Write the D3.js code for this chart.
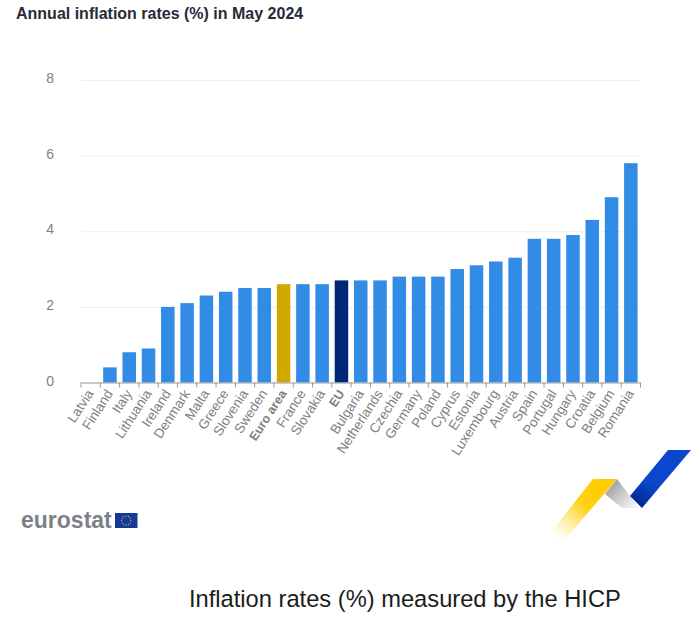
<!DOCTYPE html>
<html><head><meta charset="utf-8">
<script src="https://cdn.jsdelivr.net/npm/d3@7"></script>
<style>html,body{margin:0;padding:0;background:#fff}svg{display:block;font-family:"Liberation Sans",Arial,sans-serif}</style>
</head><body><div id="c"></div>
<script>
const countries=["Latvia","Finland","Italy","Lithuania","Ireland","Denmark","Malta","Greece","Slovenia","Sweden","Euro area","France","Slovakia","EU","Bulgaria","Netherlands","Czechia","Germany","Poland","Cyprus","Estonia","Luxembourg","Austria","Spain","Portugal","Hungary","Croatia","Belgium","Romania"];
const rates=[0.0,0.4,0.8,0.9,2.0,2.1,2.3,2.4,2.5,2.5,2.6,2.6,2.6,2.7,2.7,2.7,2.8,2.8,2.8,3.0,3.1,3.2,3.3,3.8,3.8,3.9,4.3,4.9,5.8];
const yTicks=[0,2,4,6,8];
const titleText="Annual inflation rates (%) in May 2024";
const captionText="Inflation rates (%) measured by the HICP";
const highlight={"Euro area":"#d1a800","EU":"#002677"};

const svg=d3.select("#c").append("svg").attr("width",700).attr("height",624);
const x=d3.scaleBand().domain(countries).range([81,640.5]).paddingInner(0.3).paddingOuter(0.15);
const y=d3.scaleLinear().domain([0,8]).range([382.5,80]);

svg.append("text").attr("x",16).attr("y",19).attr("font-size",16).attr("font-weight",700).attr("fill","#262b38").text(titleText);

// grid
svg.append("g").selectAll("line").data(yTicks.filter(d=>d>0)).join("line")
 .attr("x1",81).attr("x2",640.5).attr("y1",d=>y(d)+.5).attr("y2",d=>y(d)+.5).attr("stroke","#eceff1");
svg.append("g").selectAll("text").data(yTicks).join("text")
 .attr("x",54).attr("y",d=>y(d)+3).attr("text-anchor","end").attr("font-size",14).attr("fill","#7f7f7f").text(d=>d);

// bars
svg.append("g").selectAll("rect").data(countries).join("rect")
 .attr("x",d=>x(d)).attr("width",x.bandwidth())
 .attr("y",(d,i)=>y(rates[i])).attr("height",(d,i)=>y(0)-y(rates[i]))
 .attr("fill",d=>highlight[d]||"#328ce6");

// x axis
const x0=81;
svg.append("line").attr("x1",81).attr("x2",640.5).attr("y1",y(0)+.5).attr("y2",y(0)+.5).attr("stroke","#999").attr("stroke-width",1);
svg.append("g").selectAll("line").data(d3.range(countries.length+1)).join("line")
 .attr("x1",i=>x0+i*(559.5/countries.length)).attr("x2",i=>x0+i*(559.5/countries.length))
 .attr("y1",y(0)).attr("y2",y(0)+5).attr("stroke","#999");
svg.append("g").selectAll("text").data(countries).join("text")
 .attr("text-anchor","end")
 .attr("transform",d=>`translate(${x(d)+x.bandwidth()/2+3.5},${y(0)+11}) rotate(-57)`)
 .attr("fill","#808080")
 .attr("font-weight",d=>highlight[d]?700:400)
 .style("font-size",d=>highlight[d]?"12.5px":"13.5px")
 .text(d=>d);

// logo: eurostat
svg.append("text").attr("x",21).attr("y",527.5).attr("font-size",23).attr("font-weight",700).attr("fill","#7d8088").text("eurostat");
svg.append("rect").attr("x",115).attr("y",513).attr("width",22.5).attr("height",15).attr("fill","#123a96");
svg.append("g").selectAll("circle").data(d3.range(12)).join("circle")
 .attr("cx",i=>126.2+4.6*Math.cos(i*Math.PI/6)).attr("cy",i=>520.5+4.6*Math.sin(i*Math.PI/6)).attr("r",.65).attr("fill","#c9b85a");

// arrow decoration
const defs=svg.append("defs");
function grad(id,x1,y1,x2,y2,stops){const g=defs.append("linearGradient").attr("id",id).attr("gradientUnits","userSpaceOnUse").attr("x1",x1).attr("y1",y1).attr("x2",x2).attr("y2",y2);
 stops.forEach(s=>g.append("stop").attr("offset",s[0]).attr("stop-color",s[1]).attr("stop-opacity",s[2]));}
grad("gy",600,490,556,540,[[0,"#ffcc00",1],[.35,"#ffd21a",1],[1,"#ffe680",0]]);
grad("gg",608,486,632,510,[[0,"#9a9ca0",1],[1,"#ecedee",.7]]);
grad("gb",660,465,636,505,[[0,"#0a47cc",1],[.45,"#0a47cc",1],[1,"#00258a",1]]);
const logo=[["M617 479L605 494L622 508L639 508Z","url(#gg)"],["M593 479L617 479L567 537L547 537Z","url(#gy)"],["M668 450L691 450L642 508L630 496Z","url(#gb)"]];
svg.append("g").selectAll("path").data(logo).join("path").attr("d",d=>d[0]).attr("fill",d=>d[1]);

svg.append("text").attr("x",189).attr("y",606.5).attr("font-size",23.7).attr("fill","#1c1c1c").text(captionText);
</script></body></html>
